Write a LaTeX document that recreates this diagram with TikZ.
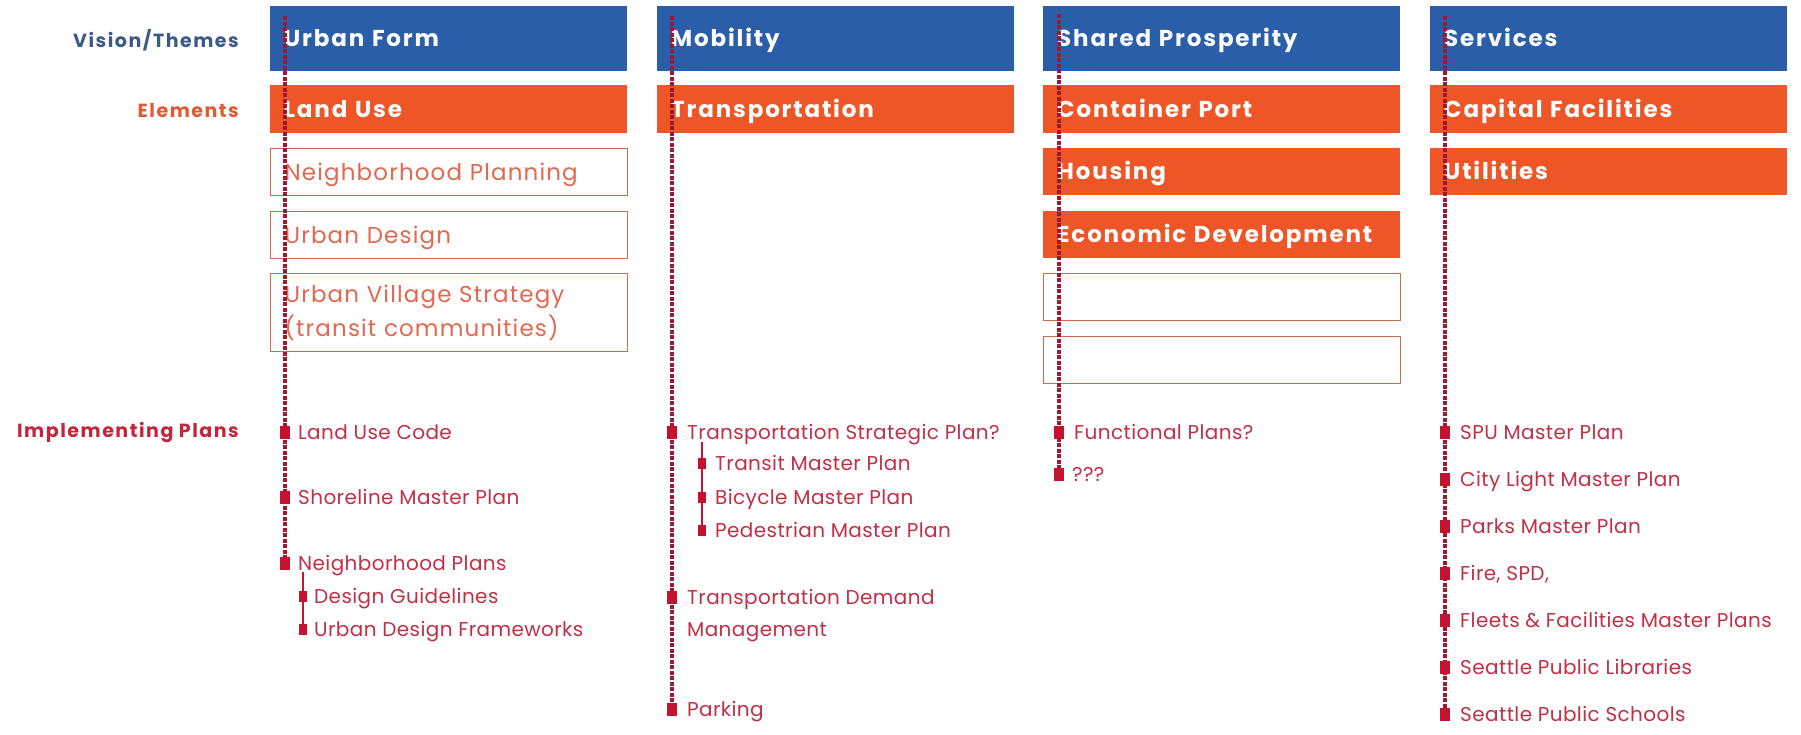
\documentclass[tikz,border=0pt]{standalone}
\usepackage{fontspec}
\setmainfont{Poppins}
\newfontfamily\hdrfont[LetterSpace=8]{Poppins}
\newfontfamily\boxfont[LetterSpace=5]{Poppins}
\newfontfamily\lblfont[LetterSpace=8]{Poppins}
\newfontfamily\itemfont[LetterSpace=2]{Poppins}
\pgfdeclarelayer{fg}
\pgfsetlayers{main,fg}
\definecolor{hdrblue}{RGB}{43,94,168}
\definecolor{elemorange}{RGB}{238,86,40}
\definecolor{outlinec}{RGB}{200,110,80}
\definecolor{outtext}{RGB}{226,104,80}
\definecolor{lblblue}{RGB}{60,90,135}
\definecolor{lblorange}{RGB}{226,90,50}
\definecolor{lblred}{RGB}{196,36,60}
\definecolor{itemred}{RGB}{192,48,70}
\definecolor{linered}{RGB}{160,24,48}
\definecolor{sqred}{RGB}{196,18,48}
\tikzset{
  hdr/.style={anchor=north west, fill=hdrblue, text=white,
    font=\hdrfont\bfseries\fontsize{23}{26}\selectfont,
    minimum height=65pt, text width=329pt, inner xsep=14pt, inner ysep=0pt, align=left,
    text height=16pt, text depth=0pt},
  elem/.style={hdr, fill=elemorange, minimum height=48pt},
  obox/.style={anchor=north west, draw=outlinec, line width=1.2pt, text=outtext,
    font=\boxfont\fontsize{23}{34}\selectfont,
    minimum height=47pt, text width=329pt, inner xsep=14pt, inner ysep=0pt, align=left},
  oneline/.style={text height=16pt, text depth=0pt},
  sq/.style={fill=sqred, minimum width=10pt, minimum height=13pt, inner sep=0pt},
  subsq/.style={fill=sqred, minimum width=8pt, minimum height=11pt, inner sep=0pt},
  item/.style={anchor=west, text=itemred, font=\itemfont\fontsize{20}{22}\selectfont,
    inner sep=0pt, text height=14pt, text depth=0pt},
  lbl/.style={anchor=east, font=\lblfont\bfseries\fontsize{19}{22}\selectfont,
    inner sep=0pt, text height=13pt, text depth=0pt},
  dotline/.style={draw=linered, line width=3.5pt, dash pattern=on 4pt off 1.5pt},
  subline/.style={draw=sqred, line width=1.3pt}
}
\begin{document}
\begin{tikzpicture}[x=1pt, y={(0pt,-1pt)}]
\useasboundingbox[fill=white] (0,0) rectangle (1801,734);
% left labels
\node[lbl, text=lblblue] (lv) at (239,41) {Vision/Themes};
\node[lbl, text=lblorange] (le) at (239,111) {Elements};
\node[lbl, text=lblred] (li) at (239,431) {Implementing Plans};
% column 1
\node[hdr] (uf) at (270,6) {Urban Form};
\node[elem] (lu) at (270,85) {Land Use};
\node[obox, oneline] (npl) at (270,148) {Neighborhood Planning};
\node[obox, oneline] (ud) at (270,211) {Urban Design};
\node[obox, minimum height=78pt] (uvs) at (270,273) {Urban Village Strategy\\(transit communities)};
% column 2
\node[hdr] (mob) at (657,6) {Mobility};
\node[elem] (tr) at (657,85) {Transportation};
% column 3
\node[hdr] (sp) at (1043,6) {Shared Prosperity};
\node[elem] (cp) at (1043,85) {Container Port};
\node[elem, minimum height=47pt] (hs) at (1043,148) {Housing};
\node[elem, minimum height=47pt] (ed) at (1043,211) {Economic Development};
\node[obox, oneline] (eb1) at (1043,273) {};
\node[obox, oneline] (eb2) at (1043,336) {};
% column 4
\node[hdr] (sv) at (1430,6) {Services};
\node[elem] (cf) at (1430,85) {Capital Facilities};
\node[elem, minimum height=47pt] (ut) at (1430,148) {Utilities};

\begin{pgfonlayer}{fg}
% column 1 squares
\node[sq] (q11) at (285,432) {};
\node[sq] (q12) at (285,497) {};
\node[sq] (q13) at (285,563) {};
\node[subsq] (q14) at (303,596) {};
\node[subsq] (q15) at (303,629) {};
% column 2 squares
\node[sq] (q21) at (672,432) {};
\node[subsq] (q22) at (702,463) {};
\node[subsq] (q23) at (702,497) {};
\node[subsq] (q24) at (702,530) {};
\node[sq] (q25) at (672,597) {};
\node[sq] (q26) at (672,709) {};
% column 3 squares
\node[sq] (q31) at (1059,432) {};
\node[sq] (q32) at (1059,474) {};
% column 4 squares
\node[sq] (q41) at (1445,432) {};
\node[sq] (q42) at (1445,479) {};
\node[sq] (q43) at (1445,526) {};
\node[sq] (q44) at (1445,573) {};
\node[sq] (q45) at (1445,620) {};
\node[sq] (q46) at (1445,667) {};
\node[sq] (q47) at (1445,714) {};
\end{pgfonlayer}

% item texts
\node[item] (t11) at (298,432) {Land Use Code};
\node[item] (t12) at (298,497) {Shoreline Master Plan};
\node[item] (t13) at (298,563) {Neighborhood Plans};
\node[item] (t14) at (314,596) {Design Guidelines};
\node[item] (t15) at (314,629) {Urban Design Frameworks};
\node[item] (t21) at (687,432) {Transportation Strategic Plan?};
\node[item] (t22) at (715,463) {Transit Master Plan};
\node[item] (t23) at (715,497) {Bicycle Master Plan};
\node[item] (t24) at (715,530) {Pedestrian Master Plan};
\node[item] (t25) at (687,597) {Transportation Demand};
\node[item] (t25b) at (687,629) {Management};
\node[item] (t26) at (687,709) {Parking};
\node[item] (t31) at (1074,432) {Functional Plans?};
\node[item] (t32) at (1072,474) {???};
\node[item] (t41) at (1460,432) {SPU Master Plan};
\node[item] (t42) at (1460,479) {City Light Master Plan};
\node[item] (t43) at (1460,526) {Parks Master Plan};
\node[item] (t44) at (1460,573) {Fire, SPD,};
\node[item] (t45) at (1460,620) {Fleets \& Facilities Master Plans};
\node[item] (t46) at (1460,667) {Seattle Public Libraries};
\node[item] (t47) at (1460,714) {Seattle Public Schools};

% connectors
\coordinate (c1) at (285,16);
\coordinate (c2) at (672,16);
\coordinate (c3) at (1059,14);
\coordinate (c4) at (1445,16);
\draw[dotline] (c1) -- (q13.center);
\draw[dotline] (c2) -- (q26.center);
\draw[dotline] (c3) -- (q32.center);
\draw[dotline] (c4) -- (q47.center);
\coordinate (s1) at (303,572);
\coordinate (s2) at (702,442);
\draw[subline] (s1) -- (q15.center);
\draw[subline] (s2) -- (q24.center);
\end{tikzpicture}
\end{document}
